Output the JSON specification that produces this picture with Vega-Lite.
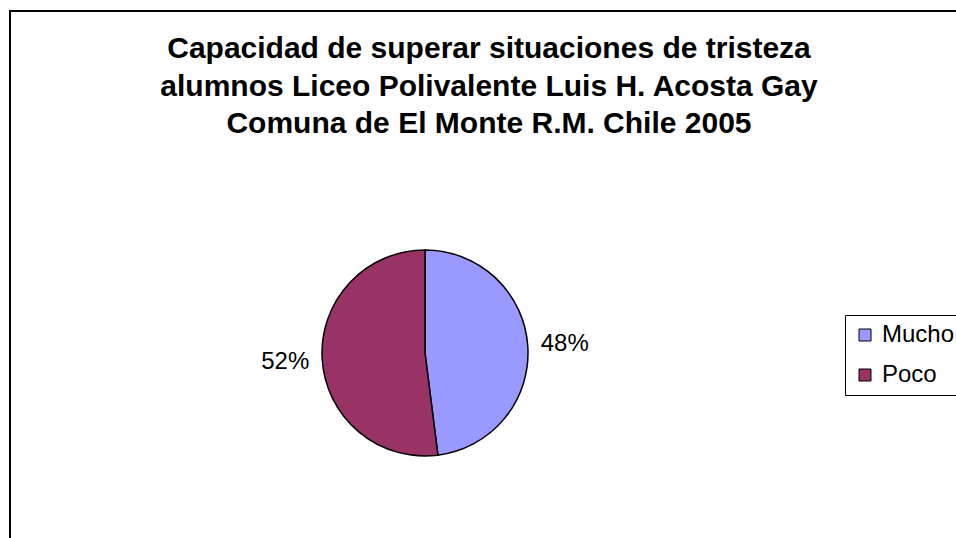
{
  "$schema": "https://vega.github.io/schema/vega-lite/v6.json",
  "autosize": "none",
  "padding": {"left": 10, "top": 11, "right": 0, "bottom": 0},
  "width": 958,
  "height": 540,
  "background": "white",
  "config": {
    "view": {"stroke": "black", "strokeWidth": 2},
    "font": "Liberation Sans"
  },
  "title": {
    "text": [
      "Capacidad de superar situaciones de tristeza",
      "alumnos Liceo Polivalente Luis H. Acosta Gay",
      "Comuna de El Monte R.M. Chile 2005"
    ],
    "font": "Liberation Sans",
    "fontSize": 30,
    "fontWeight": "bold",
    "color": "black",
    "anchor": "middle",
    "frame": "group",
    "baseline": "alphabetic",
    "lineHeight": 37.5,
    "offset": -152
  },
  "data": {
    "values": [
      {"category": "Mucho", "value": 48, "label": "48%"},
      {"category": "Poco", "value": 52, "label": "52%"}
    ]
  },
  "encoding": {
    "theta": {"field": "value", "type": "quantitative", "stack": true},
    "x": {"datum": 0.4332, "type": "quantitative", "scale": {"domain": [0, 1]}, "axis": null},
    "y": {"datum": 0.3667, "type": "quantitative", "scale": {"domain": [0, 1]}, "axis": null}
  },
  "layer": [
    {
      "mark": {"type": "arc", "outerRadius": 103, "stroke": "black", "strokeWidth": 1.5},
      "encoding": {
        "color": {
          "field": "category",
          "type": "nominal",
          "scale": {"domain": ["Mucho", "Poco"], "range": ["#9999FF", "#993366"]},
          "legend": {
            "title": null,
            "orient": "none",
            "legendX": 835,
            "legendY": 304,
            "symbolType": "square",
            "symbolSize": 144,
            "symbolStrokeColor": "black",
            "symbolStrokeWidth": 1,
            "labelFontSize": 24,
            "labelFont": "Liberation Sans",
            "labelColor": "black",
            "strokeColor": "black",
            "fillColor": "white",
            "padding": 8,
            "rowPadding": 16,
            "labelOffset": 5
          }
        }
      }
    },
    {
      "mark": {"type": "text", "radius": 140, "fontSize": 24, "font": "Liberation Sans", "color": "black", "align": "center", "baseline": "middle"},
      "encoding": {
        "text": {"field": "label"},
        "detail": {"field": "category"}
      }
    }
  ]
}
